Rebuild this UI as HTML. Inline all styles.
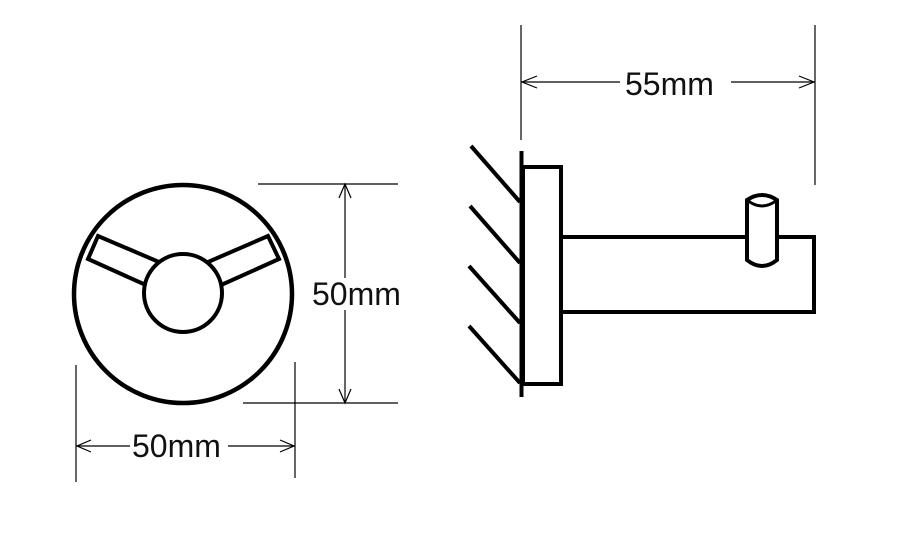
<!DOCTYPE html>
<html><head><meta charset="utf-8"><style>
html,body{margin:0;padding:0;background:#fff;}
svg{display:block;}
text{font-family:"Liberation Sans",sans-serif;font-size:32px;fill:#111;}
</style></head><body>
<svg width="908" height="556" viewBox="0 0 908 556" xmlns="http://www.w3.org/2000/svg">
<rect width="908" height="556" fill="#fff"/>
<circle cx="183" cy="294" r="109" fill="none" stroke="#000" stroke-width="4.5"/>
<polygon points="98,236 88,259 148,286 159,262" fill="#fff" stroke="#000" stroke-width="4"/>
<polygon points="268,236 279,259 219,286 208,262" fill="#fff" stroke="#000" stroke-width="4"/>
<circle cx="183" cy="293" r="39" fill="#fff" stroke="#000" stroke-width="4"/>
<g stroke="#000" stroke-width="1.2" fill="none">
<line x1="258" y1="184" x2="398" y2="184"/>
<line x1="243" y1="403" x2="398" y2="403"/>
<line x1="345" y1="184" x2="345" y2="278"/>
<line x1="345" y1="310" x2="345" y2="403"/>
<polyline points="339,198 345,184 351,198"/>
<polyline points="339,389 345,403 351,389"/>
<line x1="76" y1="365" x2="76" y2="482"/>
<line x1="295" y1="362" x2="295" y2="478"/>
<line x1="76" y1="446" x2="130" y2="446"/>
<line x1="228" y1="446" x2="295" y2="446"/>
<polyline points="91,440 77,446 91,452"/>
<polyline points="280,440 294,446 280,452"/>
<line x1="521" y1="25" x2="521" y2="140"/>
<line x1="815" y1="25" x2="815" y2="185"/>
<line x1="521" y1="82" x2="620" y2="82"/>
<line x1="731" y1="82" x2="815" y2="82"/>
<polyline points="537,76 522,82 537,88"/>
<polyline points="799,76 814,82 799,88"/>
</g>
<text x="312" y="305">50mm</text>
<text x="132" y="457">50mm</text>
<text x="625" y="95">55mm</text>
<g stroke="#000" stroke-width="4" fill="none">
<line x1="471" y1="146" x2="520" y2="202"/>
<line x1="470" y1="206" x2="520" y2="263"/>
<line x1="469" y1="266" x2="520" y2="323"/>
<line x1="469" y1="326" x2="520" y2="383"/>
<line x1="521.5" y1="151" x2="521.5" y2="397"/>
<rect x="523" y="167" width="38" height="217"/>
<polyline points="561,237 814,237 814,312 561,312"/>
<path d="M747,200 Q762,190 777,200 L777,260 Q762,272 747,260 Z" fill="#fff"/>
<path d="M747,200 Q762,212 777,200" stroke-width="3"/>
</g>
</svg>
</body></html>
